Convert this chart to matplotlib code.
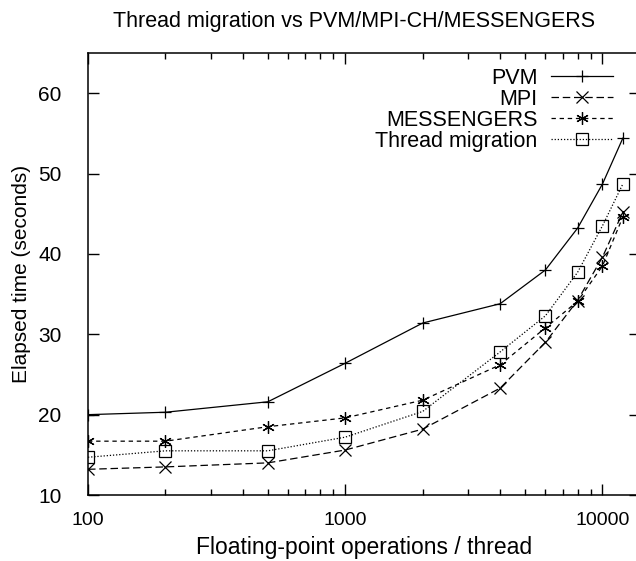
import matplotlib
matplotlib.use("Agg")
import matplotlib.pyplot as plt
from matplotlib.ticker import FixedLocator, LogLocator, NullFormatter

plt.rcParams['font.family'] = ['Liberation Sans', 'DejaVu Sans']

flops = [100, 200, 500, 1000, 2000, 4000, 6000, 8000, 10000, 12000]
pvm = [20.0, 20.3, 21.6, 26.4, 31.4, 33.8, 38.0, 43.2, 48.7, 54.4]
mpi = [13.2, 13.5, 14.0, 15.6, 18.2, 23.3, 29.0, 34.2, 39.6, 45.2]
messengers = [16.7, 16.7, 18.5, 19.6, 21.8, 26.2, 30.8, 34.1, 38.5, 44.6]
thread_mig = [14.7, 15.5, 15.5, 17.2, 20.4, 27.8, 32.3, 37.7, 43.5, 48.7]

yticks = [10, 20, 30, 40, 50, 60]
xticks = [100, 1000, 10000]
xticklabels = ["100", "1000", "10000"]

fig = plt.figure(figsize=(6.36, 5.61), dpi=100)
ax = fig.add_axes([0.1384, 0.1176, 0.868, 0.788])

lw = 0.9
ax.plot(flops, pvm, color='black', lw=lw, ls='-', marker='+', ms=9,
        mew=lw, label='PVM')
ax.plot(flops, mpi, color='black', lw=lw, ls=(0, (6, 3)), marker='x', ms=8,
        mew=lw, label='MPI')
ax.plot(flops, messengers, color='black', lw=lw, ls=(0, (3.5, 3)), marker=(6, 2, 0),
        ms=9, mew=lw, label='MESSENGERS')
ax.plot(flops, thread_mig, color='black', lw=lw, ls=(0, (1, 1.5)), marker='s', ms=8,
        mew=lw, mfc='none', label='Thread migration')

ax.set_xscale('log')
ax.set_xlim(100, 14000)
ax.set_ylim(10, 65)
ax.xaxis.set_major_locator(FixedLocator(xticks))
ax.set_xticklabels(xticklabels)
ax.xaxis.set_minor_locator(LogLocator(base=10, subs=range(2, 10)))
ax.xaxis.set_minor_formatter(NullFormatter())
ax.set_yticks(yticks)

ax.tick_params(which='both', direction='in', top=True, right=True, width=1)
ax.tick_params(axis='x', labelsize=14, pad=12)
ax.tick_params(axis='y', labelsize=15, pad=19)
ax.tick_params(which='major', length=8)
ax.tick_params(which='minor', length=4)
for s in ax.spines.values():
    s.set_linewidth(1.1)

ax.set_xlabel('Floating-point operations / thread', fontsize=16.5, labelpad=5)
ax.set_ylabel('Elapsed time (seconds)', fontsize=15, labelpad=5)
fig.text(0.556, 0.962, 'Thread migration vs PVM/MPI-CH/MESSENGERS',
         ha='center', va='center', fontsize=15.5)

ax.legend(loc='upper right', bbox_to_anchor=(0.951, 0.967), frameon=False,
          markerfirst=False, fontsize=15.5, handlelength=2.9,
          handletextpad=0.6, labelspacing=0.0, borderaxespad=0.0,
          borderpad=0.0)

fig.savefig('out.png', dpi=100)
